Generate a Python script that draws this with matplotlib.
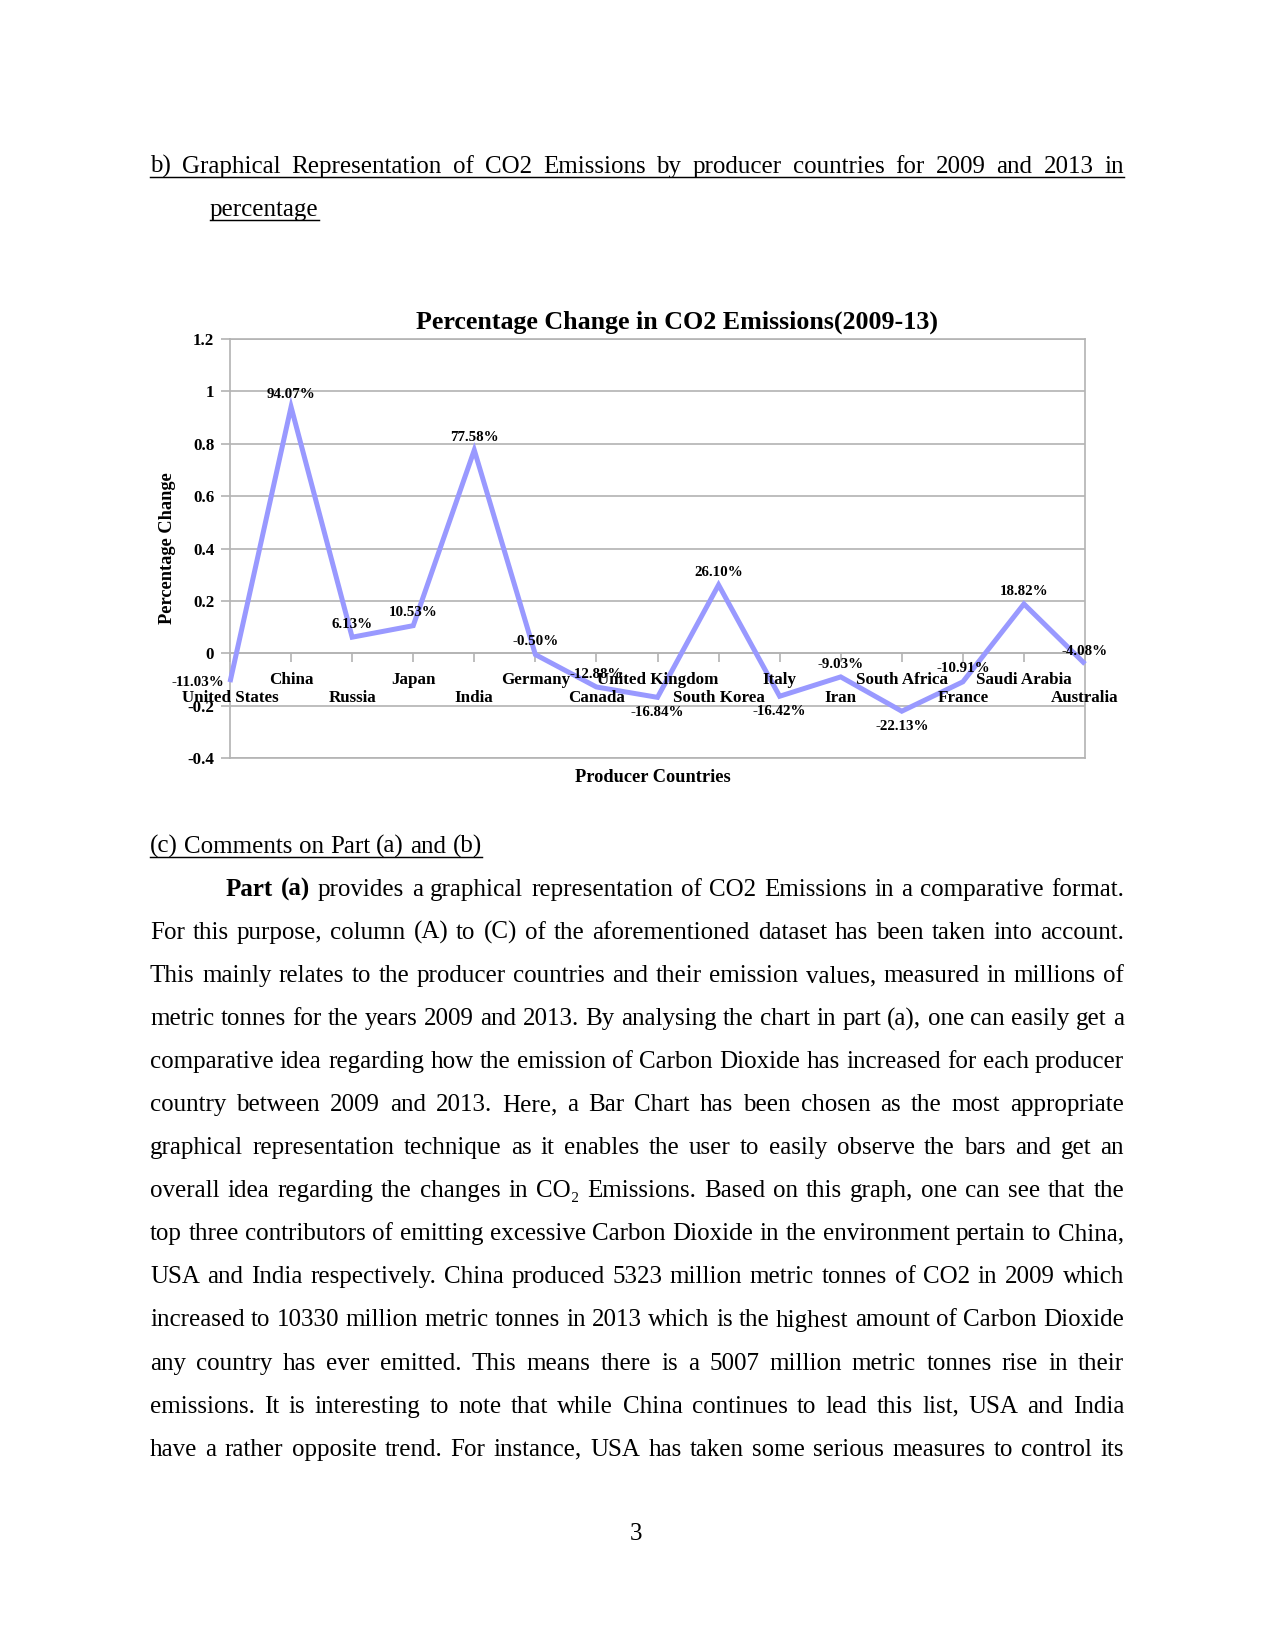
import matplotlib
matplotlib.use("Agg")
import matplotlib.pyplot as plt
import numpy as np

plt.rcParams['font.family'] = 'Liberation Serif'

# chart data
countries = ["United States", "China", "Russia", "Japan", "India", "Germany", "Canada",
             "United Kingdom", "South Korea", "Italy", "Iran", "South Africa", "France",
             "Saudi Arabia", "Australia"]
pct_change = [-0.1103, 0.9407, 0.0613, 0.1053, 0.7758, -0.0050, -0.1288,
              -0.1684, 0.2610, -0.1642, -0.0903, -0.2213, -0.1091, 0.1882, -0.0408]
y_ticks = [-0.4, -0.2, 0, 0.2, 0.4, 0.6, 0.8, 1, 1.2]

chart_title = "Percentage Change in CO2 Emissions(2009-13)"
x_title = "Producer Countries"
y_title = "Percentage Change"

# page text
heading_b = ["b) Graphical Representation of CO2 Emissions by producer countries for 2009 and 2013 in",
             "percentage"]
heading_c = "(c) Comments on Part (a) and (b)"
body = [
    "Part (a) provides a graphical representation of CO2 Emissions in a comparative format.",
    "For this purpose, column (A) to (C) of the aforementioned dataset has been taken into account.",
    "This mainly relates to the producer countries and their emission values, measured in millions of",
    "metric tonnes for the years 2009 and 2013. By analysing the chart in part (a), one can easily get a",
    "comparative idea regarding how the emission of Carbon Dioxide has increased for each producer",
    "country between 2009 and 2013. Here, a Bar Chart has been chosen as the most appropriate",
    "graphical representation technique as it enables the user to easily observe the bars and get an",
    "overall idea regarding the changes in CO\u2082 Emissions. Based on this graph, one can see that the",
    "top three contributors of emitting excessive Carbon Dioxide in the environment pertain to China,",
    "USA and India respectively. China produced 5323 million metric tonnes of CO2 in 2009 which",
    "increased to 10330 million metric tonnes in 2013 which is the highest amount of Carbon Dioxide",
    "any country has ever emitted. This means there is a 5007 million metric tonnes rise in their",
    "emissions. It is interesting to note that while China continues to lead this list, USA and India",
    "have a rather opposite trend. For instance, USA has taken some serious measures to control its",
]
page_no = "3"

W, H = 1275, 1650
fig = plt.figure(figsize=(8.5, 11), dpi=150)
fig.patch.set_facecolor('white')
renderer = fig.canvas.get_renderer()


def fx(x):
    return x / W


def fy(y):
    return 1 - y / H


def put_line(text, x0, x1, base, size=12, justify=True, n_bold=0, underline=False):
    words = text.split()
    items = []
    for k, w in enumerate(words):
        fam = ['Liberation Serif', 'DejaVu Serif'] if '\u2082' in w else 'Liberation Serif'
        t = fig.text(0, fy(base), w, fontsize=size, va='baseline', ha='left', family=fam,
                     fontweight='bold' if k < n_bold else 'normal')
        items.append(t)
    widths = [t.get_window_extent(renderer).width for t in items]
    if justify and len(words) > 1:
        gap = (x1 - x0 - sum(widths)) / (len(words) - 1)
    else:
        gap = size * 150 / 72 * 0.25
    x = x0
    for t, w in zip(items, widths):
        t.set_x(fx(x))
        x += w + gap
    end = x - gap
    if underline:
        fig.add_artist(plt.Line2D([fx(x0), fx(end)], [fy(base + 4), fy(base + 4)],
                                  color='black', lw=0.7))


LM, RM = 150, 1124

# heading b)
put_line(heading_b[0], LM, RM, 173, underline=True)
put_line(heading_b[1], 210, RM, 216, justify=False, underline=True)

# chart
grid_c = '#b3b3b3'
ax = fig.add_axes([fx(230), fy(758), fx(1085 - 230), (758 - 339) / H])
x = np.arange(len(countries))
ax.plot(x, pct_change, color='#9999ff', lw=2.4, solid_joinstyle='miter',
        solid_capstyle='butt', clip_on=False, zorder=3)
ax.set_xlim(0, len(countries) - 1)
ax.set_ylim(-0.4, 1.2)
ax.set_yticks(y_ticks)
ax.set_yticklabels([f"{v:g}" for v in y_ticks], fontsize=8.2, fontweight='bold')
ax.yaxis.grid(True, color=grid_c, lw=0.8)
ax.set_axisbelow(True)
for s in ['left', 'right', 'top']:
    ax.spines[s].set_color(grid_c)
    ax.spines[s].set_linewidth(0.8)
ax.spines['bottom'].set_position(('data', 0))
ax.spines['bottom'].set_color(grid_c)
ax.spines['bottom'].set_linewidth(0.8)
ax.plot([0, 1], [0, 0], transform=ax.transAxes, color=grid_c, lw=0.8, clip_on=False)
ax.tick_params(axis='y', length=4.3, width=0.8, color=grid_c, pad=3.2)
ax.set_xticks(x)
ax.set_xticklabels([])
ax.tick_params(axis='x', length=4.3, width=0.8, color=grid_c, direction='out')

for i, name in enumerate(countries):
    off = -14.6 if i % 2 == 1 else -23.2
    ax.annotate(name, (i, 0), xytext=(0, off), textcoords='offset points',
                ha='center', va='baseline', fontsize=8.2, fontweight='bold',
                annotation_clip=False)

n = len(pct_change)
for i, v in enumerate(pct_change):
    lab = f"{v * 100:.2f}%"
    if i == 0:
        xy, ha = (-2.9, -2.0), 'right'
    else:
        lo = 0 < i < n - 1 and v < 0 and v < pct_change[i - 1] and v < pct_change[i + 1]
        xy, ha = ((0, -8.9) if lo else (0, 4.5)), 'center'
    ax.annotate(lab, (i, v), xytext=xy, textcoords='offset points', ha=ha,
                va='baseline', fontsize=7.2, fontweight='bold', annotation_clip=False)

fig.text(fx(677), fy(329), chart_title, ha='center', va='baseline',
         fontsize=12.5, fontweight='bold')
fig.text(fx(653), fy(782), x_title, ha='center', va='baseline',
         fontsize=8.8, fontweight='bold')
fig.text(fx(167), fy(548), y_title, ha='center', va='center', rotation=90,
         fontsize=8.8, fontweight='bold')

# part (c)
put_line(heading_c, LM, RM, 853, justify=False, underline=True)
for k, line in enumerate(body):
    if k == 0:
        put_line(line, 226, RM, 896, n_bold=2)
    else:
        put_line(line, LM, RM, 896 + 43.05 * k)

fig.text(fx(636), fy(1540), page_no, ha='center', va='baseline', fontsize=12)

fig.savefig('out.png', dpi=150, facecolor='white')
